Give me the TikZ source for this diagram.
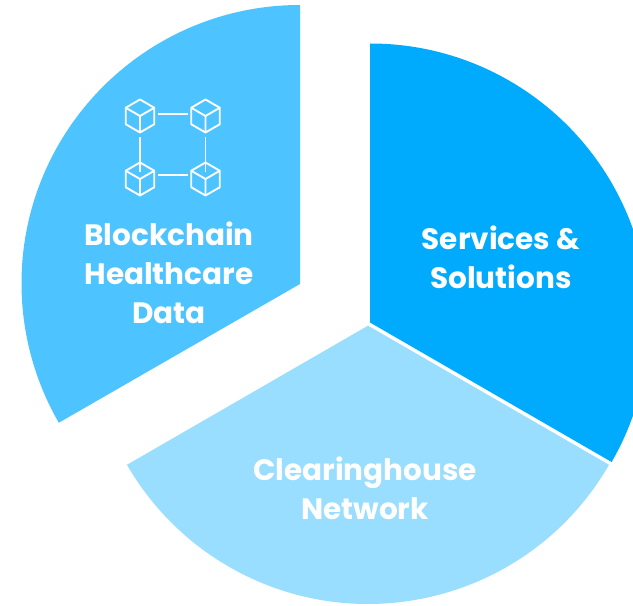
\documentclass[tikz,border=0pt]{standalone}
\usepackage{fontspec}
\setmainfont{Poppins}
\usetikzlibrary{positioning}
\definecolor{solblue}{HTML}{00AAFD}
\definecolor{datablue}{HTML}{4DC3FF}
\definecolor{netblue}{HTML}{99DDFF}
\tikzset{
  seclabel/.style={text=white,align=center,font=\fontsize{29.5}{39}\selectfont\bfseries},
  cubenode/.style={inner sep=0pt,minimum size=30pt},
  chain/.style={draw=white,line width=1.9pt},
  pics/cube/.style={code={
    \draw[chain,line join=round] (90:16.5pt) -- (30:16.5pt) -- (-30:16.5pt) -- (-90:16.5pt)
      -- (-150:16.5pt) -- (150:16.5pt) -- cycle;
    \draw[chain,line join=round] (150:16.5pt) -- (0,0) -- (30:16.5pt) (0,0) -- (-90:16.5pt);
  }}
}
\begin{document}
\begin{tikzpicture}[x=1pt,y=1pt]
  \useasboundingbox (0,0) rectangle (633,606);
  \clip (0,0) rectangle (633,606);
  % sectors
  \fill[solblue] (370,283.5) -- (370,562.5) arc (90:-30:279pt) -- cycle;
  \fill[netblue] (368,280.3) -- (609,141.2) arc (-30:-150:278.3pt) -- cycle;
  \fill[datablue] (300,322) -- (300,601) arc (90:210:278.5pt) -- cycle;
  % labels
  \node[seclabel] (data) at (169,333) {Blockchain\\Healthcare\\Data};
  \node[seclabel] (services) at (501,349) {Services \&\\Solutions};
  \node[seclabel] (network) at (365,117.5) {Clearinghouse\\Network};
  % icon
  \node[cubenode] (cubeA) at (140,490) {};
  \node[cubenode] (cubeB) at (205.5,490) {};
  \node[cubenode] (cubeC) at (140,427) {};
  \node[cubenode] (cubeD) at (205.5,427) {};
  \pic at (cubeA) {cube};
  \pic at (cubeB) {cube};
  \pic at (cubeC) {cube};
  \pic at (cubeD) {cube};
  \draw[chain,shorten <=18pt,shorten >=18pt] ([yshift=2pt]cubeA.center) to ([yshift=2pt]cubeB.center);
  \draw[chain,shorten <=18pt,shorten >=18pt] ([yshift=4pt]cubeC.center) to ([yshift=4pt]cubeD.center);
  \draw[chain,shorten <=21pt,shorten >=7pt] (cubeA.center) to (cubeC.center);
  \draw[chain,shorten <=21pt,shorten >=7pt] (cubeB.center) to (cubeD.center);
\end{tikzpicture}
\end{document}
